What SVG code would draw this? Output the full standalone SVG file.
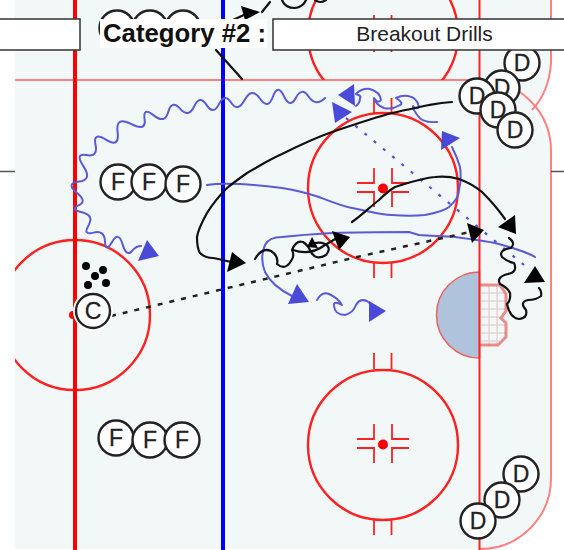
<svg xmlns="http://www.w3.org/2000/svg" width="564" height="550" viewBox="0 0 564 550">
<style>
.rl{fill:none;stroke:#ff2020;stroke-width:2.4}
.rt{fill:none;stroke:#ff2020;stroke-width:1.8}
.pk{fill:none;stroke:#ff8080;stroke-width:2}
.bl{fill:none;stroke:#5a5ad8;stroke-width:2;stroke-linecap:round;stroke-linejoin:round}
.bk{fill:none;stroke:#111;stroke-width:2.200;stroke-linecap:round;stroke-linejoin:round}
.ba{fill:#4a4ad8}
.ka{fill:#000}
.p circle{fill:#fff;stroke:#222;stroke-width:2.400}
.p text{font-family:"Liberation Sans",Arial,sans-serif;font-size:23px;fill:#222;stroke:#222;stroke-width:.3;text-anchor:middle}
.net{fill:none;stroke:#e4d4d4;stroke-width:1.500}
</style>
<defs>
<clipPath id="c1"><rect x="15" y="0" width="540" height="550"/></clipPath>
<clipPath id="c2"><rect x="15" y="0" width="540" height="80"/></clipPath>
<g id="hash">
<path class="rt" d="M-26,-5H-9V-20M26,-5H9V-20M-26,4H-9V19M26,4H9V19"/>
<circle r="5" cy="0.5" fill="#ff0000"/>
</g>
</defs>
<rect width="564" height="550" fill="#fff"/>
<g id="rink">
<path d="M15,0H551V63Q549,92 532,110Q545,130 551,151V472Q549,535 482,549H15Z" fill="#f2f8f8"/>
<path class="pk" d="M551,0V63Q549,92 532,110"/>
<path class="pk" d="M480,80A71,71 0 0 1 551,151V478A71,71 0 0 1 480,549"/>
<path class="pk" d="M15,80H480"/>
<path d="M0,171.500H15M551,171.500H564" stroke="#555" stroke-width="1.500"/>
<circle class="rl" cx="383" cy="34" r="75" clip-path="url(#c2)"/>
<circle class="rl" cx="75" cy="315" r="75" clip-path="url(#c1)"/>
<circle class="rl" cx="383" cy="188" r="75"/>
<circle class="rl" cx="383" cy="445" r="75"/>
<path class="rt" d="M374,15V52M391.500,15V52M374,98V114M391.500,98V114M374,262V278M391.500,262V278M374,353V369M391.500,353V369M374,519V535M391.500,519V535"/>
<use href="#hash" x="383" y="188"/>
<use href="#hash" x="383" y="444"/>
<path d="M479.500,272A43,43 0 0 0 479.500,358Z" fill="#afc3dc" stroke="#f06060" stroke-width="1.500"/>
<path class="net" d="M480,293H505M480,301H506M480,309H505M480,317H500M480,325H505M480,333H506M480,341H500M489,286V346M497,286V345"/>
<path d="M480,285H500L506,294V311L501,318L506,323V337L498,345H480" fill="none" stroke="#e86868" stroke-width="3" opacity=".75"/>
<path d="M479.500,0V550" stroke="#ff2020" stroke-width="2"/>
<path d="M75,0V550" stroke="#ff0000" stroke-width="4"/>
<path d="M223,0V550" stroke="#0000ff" stroke-width="4"/>
</g>
<g id="connectors">
<path class="bl" d="M325,98Q315.750,107 308.750,96.750Q301.750,86.500 295.900,97.750Q290,109 283.900,96.100Q277.750,83.250 272.900,96.750Q268,110.250 259.900,98.500Q251.750,86.750 244.750,99.750Q237.750,112.750 231.250,102.750Q224.750,92.750 219,104.100Q213.250,115.500 206.500,104.900Q199.750,94.250 194.250,106.250Q188.750,118.250 180.250,108.900Q171.750,99.500 168.250,111.900Q164.750,124.250 153.750,115.400Q142.750,106.500 144.600,119.250Q146.500,132 131,123.900Q115.500,115.750 117.600,132Q119.750,148.250 106.250,139.900Q92.750,131.500 95.500,144.500Q98.250,157.500 86.400,155.100Q74.500,152.750 83.500,166.400Q92.500,180 79,181.600Q65.500,183.250 76.600,192.400Q87.750,201.500 78.500,205.400Q69.250,209.250 81.900,212.250Q94.500,215.250 88.500,225.400Q82.500,235.500 93.500,232.600Q104.500,229.750 105,241.400Q105.500,253 112,241.900Q118.500,230.750 122.500,244.100Q126.500,257.500 132,251Q136,246 141,246"/>
<polygon class="ba" points="147,240 159,256 138,261"/>
<path class="bl" d="M207,185C225,182 250,184 282,188C300,191 310,194 319,197C332,202 342,206 352,208C368,211 380,215 392,215C405,216 415,216 425,215C436,213 444,211 449,207C456,201 459,196 459,190C461,182 461,174 460,167C458,160 455,153 452,147"/>
<polygon class="ba" points="442,131 460,138 441,150"/>
<path class="bl" d="M292,296C280,290 270,282 265,272C261,262 262,252 265,245C268,239 273,237 282,237C300,235 315,234 332,233C360,232 390,232 409,232L419,235C435,236 445,236 455,237C470,239 485,241 495,243C510,247 525,251 535,257"/>
<polygon class="ba" points="297,284 309,302 288,304"/>
<path class="bl" d="M317,300Q322,291 329,294Q338,298 342,305Q333,300 334,306Q335,315 345,315Q353,313 356,305Q360,298 367,301Q372,304 372,312"/>
<polygon class="ba" points="369,301 386,311 369,322"/>
<path class="bl" d="M437,122Q422,123 418,116Q412,108 413,106Q416,110 419,107Q417,97 408,96Q402,95 396,98Q404,103 400,105Q392,110 384,108Q376,105 374,98Q378,104 381,100Q380,92 370,89Q362,88 356,94Q362,96 360,98Q360,103 356,106"/>
<polygon class="ba" points="354,84 338,95 355,106"/>
<polygon class="ba" points="332,102 352,112 335,123"/>
<path d="M346,118L524,265" fill="none" stroke="#5050d8" stroke-width="2.200" stroke-dasharray="3 9"/>
<path class="bk" d="M452,102C440,103 435,104 429,105C415,108 405,110 392,113C370,119 350,126 332,132C315,138 298,146 282,154C268,160 258,167 247,173C240,178 233,183 227,188C218,197 212,205 207,213C202,222 198,230 197,237C197,245 198,250 200,253C204,257 208,258 213,258C220,259 225,261 232,262"/>
<polygon class="ka" points="232,252 246,263 227,272"/>
<path class="bk" d="M352,222C362,215 370,207 379,200C384,195 390,190 395,187C408,183 422,178 435,177C444,176 452,177 459,179C467,182 475,186 482,192C490,200 498,209 505,219"/>
<polygon class="ka" points="515,215 516,234 498,227"/>
<path class="bk" d="M255,259Q262,247 271,251Q279,256 277,264Q285,271 291,261Q295,256 292,250Q296,240 303,242Q308,245 311,252Q316,261 326,255Q332,248 325,244Q318,241 311,245"/>
<path class="bk" d="M293,250Q310,256 325,245L337,238"/>
<polygon class="ka" points="312,237 318,248 307,247"/>
<polygon class="ka" points="332,231 350,237 339,250"/>
<path d="M111,316L357,257L470,232" fill="none" stroke="#222" stroke-width="2.500" stroke-dasharray="5 7"/>
<polygon class="ka" points="467,223 484,230 472,243"/>
<path class="bk" d="M509,238Q516,243 511,248Q498,250 502,257Q508,262 514,263Q518,272 508,274Q496,277 500,284Q508,288 510,293Q511,300 507,304Q510,318 519,319Q528,318 526,310Q519,302 528,300Q536,300 541,296Q542,291 539,288"/>
<polygon class="ka" points="535,266 545,282 524,283"/>
<path class="bk" d="M216,50L242,79"/>
<path class="bk" d="M233,20L246,14"/>
<polygon class="ka" points="241,6 260,12 245,20"/>
<path class="bk" d="M262,12L270,2"/>
<path class="bk" d="M282,0Q285,8 295,8Q303,7 306,0M315,0Q320,4 326,0"/>
</g>
<g id="pucks" fill="#000">
<circle cx="86" cy="266" r="4"/><circle cx="103" cy="270" r="4"/><circle cx="95" cy="276" r="4"/><circle cx="88" cy="285" r="4"/><circle cx="106" cy="283" r="4"/>
</g>
<circle cx="73" cy="315" r="4" fill="#ff0000"/>
<g id="players-f-hidden" class="p">
<circle cx="117" cy="28" r="17.500"/><circle cx="150" cy="28" r="17.500"/><circle cx="183" cy="28" r="17.500"/>
</g>
<g id="players-f-top" class="p">
<circle cx="118" cy="182" r="17.500"/><text x="118" y="190">F</text>
<circle cx="149" cy="182" r="17.500"/><text x="149" y="190">F</text>
<circle cx="183" cy="184" r="17.500"/><text x="183" y="192">F</text>
</g>
<g id="players-f-bottom" class="p">
<circle cx="116" cy="438" r="17.500"/><text x="116" y="446">F</text>
<circle cx="150" cy="440" r="17.500"/><text x="150" y="448">F</text>
<circle cx="182" cy="440" r="17.500"/><text x="182" y="448">F</text>
</g>
<g id="coach" class="p">
<circle cx="93" cy="311" r="20" style="fill:#fff;stroke:none"/>
<circle cx="93" cy="311" r="17"/><text x="93" y="319">C</text>
</g>
<g id="players-d-top" class="p">
<circle cx="522" cy="63" r="17.500"/><text x="522" y="71">D</text>
<circle cx="502" cy="88" r="17.500"/><text x="502" y="96">D</text>
<circle cx="477" cy="96" r="17.500"/><text x="477" y="104">D</text>
<circle cx="498" cy="110" r="17.500"/><text x="498" y="118">D</text>
<circle cx="515" cy="130" r="17.500"/><text x="515" y="138">D</text>
</g>
<g id="players-d-bottom" class="p">
<circle cx="521" cy="474" r="17.500"/><text x="521" y="482">D</text>
<circle cx="502" cy="500" r="17.500"/><text x="502" y="508">D</text>
<circle cx="478" cy="521" r="17.500"/><text x="478" y="529">D</text>
</g>
<g id="title">
<rect x="-2" y="19" width="82" height="31" fill="#fff" stroke="#333" stroke-width="1.500"/>
<rect x="100" y="19" width="167" height="29" fill="#fff"/>
<text x="103" y="42" font-family="Liberation Sans,Arial,sans-serif" font-size="26" font-weight="bold" fill="#111" textLength="163" lengthAdjust="spacingAndGlyphs">Category #2 :</text>
<rect x="273" y="19" width="293" height="31" fill="#fff" stroke="#333" stroke-width="1.500"/>
<text x="424.500" y="41" font-family="Liberation Sans,Arial,sans-serif" font-size="21" fill="#222" text-anchor="middle">Breakout Drills</text>
</g>
</svg>
